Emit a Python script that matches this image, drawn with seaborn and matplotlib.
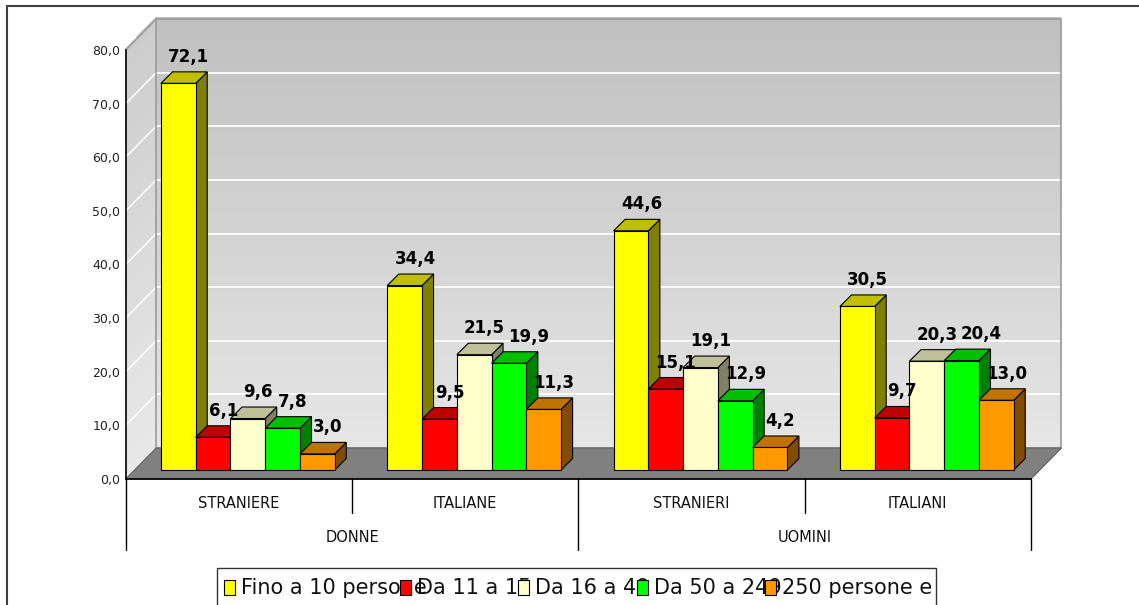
import numpy as np
import pandas as pd
import seaborn as sns
import matplotlib.pyplot as plt
from matplotlib import font_manager
from matplotlib.patches import Polygon, Rectangle
from matplotlib.lines import Line2D
from matplotlib.transforms import Bbox, TransformedBbox

# dati
gruppi = ["STRANIERE", "ITALIANE", "STRANIERI", "ITALIANI"]
sesso = ["DONNE", "UOMINI"]
classi = ["Fino a 10 persone", "Da 11 a 15", "Da 16 a 49", "Da 50 a 249", "250 persone e oltre"]
fino_10 = [72.1, 34.4, 44.6, 30.5]
da_11_15 = [6.1, 9.5, 15.1, 9.7]
da_16_49 = [9.6, 21.5, 19.1, 20.3]
da_50_249 = [7.8, 19.9, 12.9, 20.4]
oltre_250 = [3.0, 11.3, 4.2, 13.0]
yticks = [0, 10, 20, 30, 40, 50, 60, 70, 80]

colori = ["#FFFF00", "#FF0000", "#FFFFCC", "#00FF00", "#FF9900"]

df = pd.DataFrame({
    "gruppo": gruppi * 5,
    "classe": np.repeat(classi, len(gruppi)),
    "valore": fino_10 + da_11_15 + da_16_49 + da_50_249 + oltre_250,
})

sns.set_style("white")
nomi = {f.name for f in font_manager.fontManager.ttflist}
if "Liberation Sans Narrow" in nomi:
    plt.rcParams["font.family"] = ["Liberation Sans Narrow", "DejaVu Sans"]
    fs_val, fs_y, fs_cat, fs_leg = 17, 11.5, 14, 17
else:
    plt.rcParams["font.family"] = ["DejaVu Sans"]
    fs_val, fs_y, fs_cat, fs_leg = 12, 9, 10.5, 15

W, H = 1139, 605
fig = plt.figure(figsize=(W / 100, H / 100), dpi=100)
ax_l, ax_r, ax_t, ax_b = 125.7, 1031, 50, 479
ax = fig.add_axes([ax_l / W, 1 - ax_b / H, (ax_r - ax_l) / W, (ax_b - ax_t) / H])
ax.set_facecolor("none")

sns.barplot(data=df, x="gruppo", y="valore", hue="classe", order=gruppi,
            hue_order=classi, palette=colori, width=0.768, saturation=1,
            edgecolor="black", linewidth=0.8, errorbar=None, legend=False, ax=ax)
bars = sorted(ax.patches, key=lambda p: p.get_x())

ax.set_xlim(-0.5, 3.5)
ax.set_ylim(0, 80)
ax.set_xlabel("")
ax.set_ylabel("")

# pixel -> unita dati
sx = ax.transData.transform((1, 0))[0] - ax.transData.transform((0, 0))[0]
sy = ax.transData.transform((0, 1))[1] - ax.transData.transform((0, 0))[1]
wx, wy = 30.5 / sx, 31 / sy      # profondita pareti
bx, by = 9 / sx, 9 / sy          # arretramento barre
dx, dy = 11.5 / sx, 11.5 / sy    # spessore barre

# pareti con sfumatura
N = 60
for i in range(N):
    v0 = 80 * i / N
    v1 = 80 * (i + 1) / N + 0.3
    t = i / N
    g = 0.90 - 0.15 * t
    ax.add_patch(Rectangle((-0.5 + wx, v0 + wy), 4, v1 - v0, fc=(g, g, g), lw=0,
                           antialiased=False, zorder=0.5, clip_on=False))
    g2 = 0.91 - 0.11 * t
    ax.add_patch(Polygon([(-0.5, v0), (-0.5 + wx, v0 + wy), (-0.5 + wx, v1 + wy), (-0.5, v1)],
                         fc=(g2, g2, g2), lw=0, antialiased=False, zorder=0.5, clip_on=False))

for v in yticks[1:-1]:
    ax.plot([-0.5 + wx, 3.5 + wx], [v + wy, v + wy], color="white", lw=1.3, zorder=0.7, clip_on=False)
    ax.plot([-0.5, -0.5 + wx], [v, v + wy], color="white", lw=1.1, zorder=0.7, clip_on=False)

ax.add_patch(Rectangle((-0.5 + wx, wy), 4, 80, fill=False, ec="#9a9a9a", lw=1.2,
                       zorder=0.8, clip_on=False))
ax.plot([-0.5, -0.5 + wx], [80, 80 + wy], color="#9a9a9a", lw=1.2, zorder=0.8, clip_on=False)

# pavimento
ax.add_patch(Polygon([(-0.5, 0), (3.5, 0), (3.5 + wx, wy), (-0.5 + wx, wy)],
                     fc="#808080", ec="#606060", lw=0.8, zorder=1, clip_on=False))


def scurisci(c, f):
    return (c[0] * f, c[1] * f, c[2] * f, 1)


# barre 3d
etichette = []
for k, p in enumerate(bars):
    x0 = p.get_x() + bx
    w = p.get_width()
    h = p.get_height()
    z = 3 + k * 0.1
    p.set_x(x0)
    p.set_y(by)
    p.set_zorder(z + 0.05)
    fc = p.get_facecolor()
    ax.add_patch(Polygon([(x0 + w, by), (x0 + w + dx, by + dy), (x0 + w + dx, by + h + dy), (x0 + w, by + h)],
                         fc=scurisci(fc, 0.5), ec="black", lw=0.8, zorder=z, clip_on=False))
    ax.add_patch(Polygon([(x0, by + h), (x0 + w, by + h), (x0 + w + dx, by + h + dy), (x0 + dx, by + h + dy)],
                         fc=scurisci(fc, 0.75), ec="black", lw=0.8, zorder=z, clip_on=False))
    txt = ax.text(x0 + w / 2 + dx * 0.9, by + h + dy + 6 / sy, f"{h:.1f}".replace(".", ","),
                  ha="center", va="bottom", fontsize=fs_val, fontweight="bold", color="black",
                  zorder=10, clip_on=False)
    etichette.append(txt)

# etichette che si toccano: sposta a destra quella successiva
renderer = fig.canvas.get_renderer()
for k in range(1, len(etichette)):
    a = etichette[k - 1].get_window_extent(renderer)
    b = etichette[k].get_window_extent(renderer)
    if a.x1 > b.x0 - 2 and b.x1 > a.x0 and a.y1 > b.y0 and b.y1 > a.y0:
        xk, yk = etichette[k].get_position()
        etichette[k].set_position((xk + (a.x1 - b.x0 + 3) / sx, yk))

# assi
for s in ["top", "right"]:
    ax.spines[s].set_visible(False)
for s in ["left", "bottom"]:
    ax.spines[s].set_color("black")
    ax.spines[s].set_linewidth(1.2)
    ax.spines[s].set_zorder(2)

ax.set_yticks(yticks, [f"{v:.1f}".replace(".", ",") for v in yticks])
ax.tick_params(axis="y", direction="inout", length=6, width=1, pad=1, labelsize=fs_y,
               labelcolor="#222222")
ax.set_xticks(range(len(gruppi)), gruppi)
ax.tick_params(axis="x", length=0, pad=12, labelsize=fs_cat, labelcolor="#111111")

xt = ax.get_xaxis_transform()
lungo = -(550 - ax_b) / (ax_b - ax_t)
corto = -(513 - ax_b) / (ax_b - ax_t)
for x in [-0.5, 1.5, 3.5]:
    ax.plot([x, x], [0, lungo], color="black", lw=1, transform=xt, clip_on=False)
for x in [0.5, 2.5]:
    ax.plot([x, x], [0, corto], color="black", lw=1, transform=xt, clip_on=False)
for i, s in enumerate(sesso):
    ax.text(0.5 + 2 * i, -(538 - ax_b) / (ax_b - ax_t), s, transform=xt, ha="center",
            va="center", fontsize=fs_cat, color="#111111")

# legenda (come nell'originale, voci sovrapposte)
leg_x = [224, 400, 518, 637, 765]
box = TransformedBbox(Bbox([[217 / W, 0], [936 / W, 1 - 568 / H]]), fig.transFigure)
for i, (lab, col) in enumerate(zip(classi, colori)):
    x = leg_x[i]
    fig.add_artist(Rectangle((x / W, 1 - 595 / H), 11 / W, 15 / H, transform=fig.transFigure,
                             fc=col, ec="black", lw=0.8, zorder=10 + 2 * i))
    t = fig.text((x + 17) / W, 1 - 588 / H, lab, ha="left", va="center", fontsize=fs_leg,
                 color="#111111", zorder=11 + 2 * i)
    t.set_clip_box(box)
    t.set_clip_on(True)
fig.add_artist(Rectangle((217 / W, -0.05), (936 - 217) / W, 0.05 + 1 - 568 / H,
                         transform=fig.transFigure, fill=False, ec="#333333", lw=1, zorder=30))

# cornice esterna
fig.add_artist(Line2D([7 / W, 1], [1 - 6 / H, 1 - 6 / H], transform=fig.transFigure,
                      color="#404040", lw=1.5))
fig.add_artist(Line2D([7 / W, 7 / W], [0, 1 - 6 / H], transform=fig.transFigure,
                      color="#404040", lw=1.5))

fig.savefig("out.png", dpi=100)
